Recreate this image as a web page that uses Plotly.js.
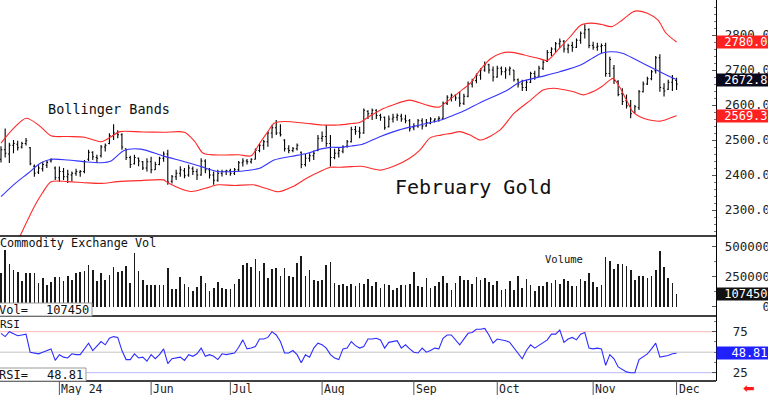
<!DOCTYPE html>
<html><head><meta charset="utf-8">
<script src="https://cdn.plot.ly/plotly-3.0.1.min.js"></script>
<style>html,body{margin:0;padding:0;background:#fff}#chart{width:768px;height:395px}</style>
</head><body><div id="chart"></div>
<script>
// ---- DATA (February Gold, daily bars; x = trading-day index) ----
const openP = [2445,2472,2460,2485,2488,2480,2490,2478,2425,2408,2418,2428,2440,2420,2392,2410,2395,2400,2405,2408,
2410,2445,2465,2450,2455,2480,2490,2512,2520,2515,2475,2450,2432,2448,2438,2420,2438,2415,2430,2448,
2460,2382,2395,2405,2412,2400,2418,2410,2400,2440,2415,2400,2385,2405,2410,2412,2405,2415,2435,2440,
2438,2445,2470,2485,2495,2520,2535,2520,2500,2475,2470,2475,2465,2430,2448,2455,2470,2505,2510,2490,
2450,2462,2468,2482,2495,2530,2525,2520,2582,2575,2585,2570,2565,2538,2560,2565,2568,2560,2555,2535,
2540,2555,2540,2548,2555,2560,2562,2605,2620,2628,2620,2605,2625,2660,2670,2685,2700,2715,2700,2680,
2705,2695,2700,2700,2672,2660,2650,2665,2690,2682,2705,2725,2750,2760,2775,2782,2760,2770,2765,2785,
2805,2815,2770,2765,2768,2770,2690,2705,2668,2632,2612,2598,2578,2592,2638,2660,2675,2698,2735,2648,
2645,2665,2670];
const highP = [2482,2533,2492,2500,2498,2495,2506,2480,2430,2428,2438,2443,2448,2424,2424,2420,2415,2410,2418,2414,
2443,2472,2468,2458,2486,2490,2519,2545,2528,2519,2476,2455,2458,2450,2440,2448,2452,2438,2452,2467,
2472,2400,2415,2425,2420,2429,2424,2418,2448,2445,2420,2410,2415,2415,2415,2418,2420,2440,2448,2446,
2448,2476,2490,2500,2524,2543,2557,2545,2502,2485,2480,2490,2467,2460,2462,2470,2514,2524,2543,2514,
2475,2480,2485,2500,2538,2540,2538,2590,2585,2590,2588,2575,2567,2570,2575,2576,2575,2572,2560,2548,
2560,2562,2560,2565,2562,2568,2610,2628,2633,2630,2638,2632,2667,2675,2690,2705,2724,2718,2710,2712,
2710,2708,2710,2700,2676,2672,2672,2695,2698,2712,2729,2757,2765,2780,2790,2786,2775,2781,2790,2810,
2831,2819,2781,2778,2776,2778,2738,2714,2671,2648,2630,2614,2600,2643,2667,2681,2700,2740,2745,2662,
2672,2686,2678];
const lowP = [2436,2450,2434,2462,2470,2476,2484,2428,2395,2403,2410,2420,2436,2386,2381,2386,2377,2382,2398,2395,
2405,2440,2443,2434,2450,2467,2488,2500,2505,2472,2443,2420,2430,2425,2414,2410,2405,2414,2428,2438,
2372,2376,2386,2395,2391,2395,2400,2386,2398,2405,2390,2372,2381,2396,2400,2398,2400,2410,2424,2430,
2433,2444,2465,2472,2481,2505,2514,2510,2467,2462,2465,2470,2419,2424,2438,2443,2468,2495,2481,2424,
2445,2450,2462,2478,2493,2515,2505,2518,2560,2557,2560,2555,2529,2536,2550,2555,2552,2548,2524,2528,
2535,2530,2538,2545,2550,2552,2560,2600,2610,2612,2595,2600,2622,2650,2662,2672,2695,2690,2667,2678,
2685,2675,2685,2667,2650,2640,2640,2663,2672,2681,2700,2723,2740,2750,2762,2750,2748,2752,2763,2775,
2790,2762,2758,2755,2748,2681,2680,2660,2625,2600,2590,2562,2576,2586,2636,2657,2671,2690,2638,2624,
2643,2640,2643];
const closeP = [2472,2462,2485,2490,2478,2490,2498,2432,2405,2420,2430,2436,2444,2392,2410,2395,2402,2405,2410,2410,
2438,2465,2452,2448,2480,2485,2512,2520,2515,2480,2450,2430,2450,2440,2420,2438,2415,2430,2448,2460,
2380,2395,2405,2415,2398,2420,2410,2400,2440,2415,2400,2385,2405,2410,2412,2405,2415,2435,2440,2438,
2445,2470,2485,2495,2520,2535,2520,2515,2475,2470,2475,2485,2430,2448,2455,2462,2505,2510,2490,2450,
2462,2470,2480,2495,2530,2525,2520,2585,2575,2585,2570,2565,2535,2560,2565,2570,2560,2555,2532,2540,
2555,2540,2550,2560,2560,2562,2605,2622,2628,2620,2605,2625,2660,2670,2685,2700,2715,2700,2680,2705,
2695,2700,2705,2672,2660,2650,2665,2690,2680,2705,2722,2750,2760,2775,2782,2760,2770,2765,2785,2805,
2815,2770,2765,2768,2770,2690,2730,2670,2630,2610,2598,2575,2595,2638,2660,2675,2695,2735,2650,2640,
2665,2675,2660];
const volume = [280000,469000,356000,303000,289000,211000,280000,280000,280000,197000,
239000,183000,203000,247000,247000,211000,258000,219000,280000,289000,
300000,350000,303000,211000,280000,225000,261000,330000,286000,300000,
342000,197000,447000,294000,225000,183000,183000,178000,178000,178000,
322000,147000,150000,247000,192000,164000,133000,161000,258000,197000,
128000,156000,206000,156000,150000,150000,189000,230000,344000,364000,
328000,400000,294000,364000,239000,314000,322000,253000,322000,253000,
244000,364000,419000,253000,303000,219000,211000,225000,344000,372000,
197000,178000,192000,175000,192000,169000,197000,192000,233000,169000,
203000,156000,
189000,178000,142000,156000,178000,178000,192000,286000,175000,164000,
239000,156000,169000,206000,253000,197000,136000,197000,253000,219000,
225000,189000,244000,219000,239000,203000,183000,211000,136000,150000,
217000,142000,258000,156000,230000,178000,128000,169000,169000,203000,
197000,225000,189000,230000,211000,175000,175000,230000,217000,280000,
206000,164000,183000,414000,383000,317000,358000,358000,336000,308000,
225000,253000,258000,239000,258000,303000,467000,330000,239000,197000,107450];
const rsi = [73,69,75,72,70,71,72,50,49,48,50,52,54,40,47,44,43,48,47,47,
54,61,52,57,63,59,67,69,68,52,41,41,48,43,44,39,47,42,47,54,
36,42,43,44,40,47,45,48,55,45,47,45,41,48,47,48,49,56,65,54,
55,57,66,66,68,75,71,63,49,49,52,47,37,47,44,55,61,59,55,47,
43,41,54,55,63,58,55,57,66,66,67,65,
55,62,63,64,55,59,54,50,49,55,50,52,55,54,67,71,71,65,59,66,
73,74,78,78,79,71,61,66,65,64,62,55,48,42,52,59,55,58,61,65,
72,72,77,62,66,68,65,72,74,55,54,55,54,34,47,42,32,29,26,25,
25,41,45,48,54,61,44,45,46,48,48.81];

// Bollinger bands, read at sampled bar positions
const bbUpperIdx = [0,3,6,9,12,16,20,24,26.5,28.5,34,39,44,46.5,48.5,53,57,60,62,64,65.5,68,73,77,81,84,86,88,91,94,98,102,105,107,110,112.5,115,117.5,120,122,125.5,129.5,131,133.5,136.5,139,141.5,144,146.5,149,151.5,152.7,155,157.5,159.5,162];
const bbUpper = [2491,2533,2562,2543,2512,2510,2508,2495,2510,2524,2523,2522,2522,2495,2462,2457,2458,2455,2490,2524,2548,2553,2548,2543,2543,2547,2550,2565,2586,2600,2614,2600,2594,2610,2638,2662,2702,2733,2748,2751,2743,2731,2727,2757,2795,2828,2834,2830,2824,2843,2866,2869,2862,2843,2805,2780.0];
const bbMidIdx = [0,3,6.5,9.5,12,16,20,24,26.5,29.5,33.5,39,44,48,52,56,59,62,65.5,69.5,73.5,76.5,79,81.5,84,86.5,91,95.5,100.5,105.5,108.5,111.5,115,121.5,124.5,129.5,134,139,142,144,146,149,152.3,156.3,158.7,162];
const bbMid = [2338,2372,2405,2434,2445,2443,2438,2435,2441,2470,2474,2454,2438,2424,2410,2410,2413,2419,2443,2453,2462,2474,2479,2479,2483,2487,2510,2529,2543,2557,2571,2586,2607,2643,2666,2681,2695,2714,2735,2748,2752,2748,2729,2705,2691,2672.8];
const bbLowerIdx = [0,2.5,4.5,8,10,12,16,20,24,28,33.5,39,40,45.5,49,52,56,60.5,63.5,66.5,70,73.3,76.5,79,81.5,84,86.5,91,94,98,100.5,102.9,105.5,108,110,112.5,115,119.7,123,127,130,132.5,137.3,139.7,142.3,144,146,146.8,148.3,150,151.5,153.1,155.5,158,160.3,162];
const bbLower = [2120,2175,2224,2310,2350,2381,2381,2378,2376,2381,2384,2386,2378,2353,2362,2372,2370,2372,2362,2352,2367,2391,2410,2422,2422,2424,2425,2414,2424,2448,2472,2506,2514,2519,2524,2514,2500,2529,2576,2614,2643,2648,2638,2629,2640,2652,2671,2676,2652,2614,2581,2567,2557,2554,2562,2569.3];

const monthLabels = ['May 24','Jun','Jul','Aug','Sep','Oct','Nov','Dec'];
const monthStartIdx = [14,36,55,77,99,119,142,162];

const priceTicks = [2300,2400,2500,2600,2700,2800];
const volTicks = [0,250000,500000];
const volTickText = ['\u00a0\u00a0\u00a0\u00a0\u00a00','250000','500000'];
const rsiTicks = [25,75];

// ---- LAYOUT HELPERS ----
const idx = closeP.map((_, i) => i);
const MONO = 'DejaVu Sans Mono';
const PH = 381;                 // plot-area height in px
const PW = 716;                 // plot-area width in px
const py = p => (PH - p) / PH;  // px from top -> paper y
const pxx = p => p / PW;        // px from left -> paper x

const lastUpper = bbUpper[bbUpper.length-1];
const lastMid = bbMid[bbMid.length-1];
const lastLower = bbLower[bbLower.length-1];
const lastVol = volume[volume.length-1];
const lastRsi = rsi[rsi.length-1];

const traces = [
  {type:'ohlc', x:idx, open:openP, high:highP, low:lowP, close:closeP, xaxis:'x', yaxis:'y',
   increasing:{line:{color:'#000', width:1.1}}, decreasing:{line:{color:'#000', width:1.1}},
   tickwidth:0.3, hoverinfo:'skip', showlegend:false},
  {type:'scatter', mode:'lines', x:bbUpperIdx, y:bbUpper, xaxis:'x', yaxis:'y',
   line:{color:'#ff2a2a', width:1.1, shape:'spline', smoothing:0.8}, hoverinfo:'skip'},
  {type:'scatter', mode:'lines', x:bbMidIdx, y:bbMid, xaxis:'x', yaxis:'y',
   line:{color:'#3535ff', width:1.1, shape:'spline', smoothing:0.8}, hoverinfo:'skip'},
  {type:'scatter', mode:'lines', x:bbLowerIdx, y:bbLower, xaxis:'x', yaxis:'y',
   line:{color:'#ff2a2a', width:1.1, shape:'spline', smoothing:0.8}, hoverinfo:'skip'},
  {type:'bar', x:idx, y:volume, xaxis:'x', yaxis:'y2', width:0.4,
   marker:{color:'#1a1a1a', line:{width:0}}, hoverinfo:'skip'},
  {type:'scatter', mode:'lines', x:idx, y:rsi, xaxis:'x', yaxis:'y3',
   line:{color:'#2d2dff', width:1.1}, hoverinfo:'skip'}
];

const yCommon = {side:'right', anchor:'x', showgrid:false, zeroline:false, showline:true,
  linecolor:'#000', linewidth:1.3, ticks:'inside', ticklen:4, tickcolor:'#555',
  tickfont:{family:MONO, size:12.5, color:'#222'}, fixedrange:true};

const shapes = [
  {type:'line', xref:'paper', yref:'paper', x0:0, x1:1, y0:py(236), y1:py(236), line:{color:'#000', width:1.5}},
  {type:'line', xref:'paper', yref:'paper', x0:0, x1:1, y0:py(316), y1:py(316), line:{color:'#000', width:1.5}},
  {type:'line', xref:'paper', yref:'paper', x0:0, x1:1, y0:0, y1:0, line:{color:'#000', width:1.3}},
  {type:'line', xref:'paper', yref:'y3', x0:0, x1:1, y0:75, y1:75, line:{color:'#ffb4b4', width:1}, layer:'below'},
  {type:'line', xref:'paper', yref:'y3', x0:0, x1:1, y0:50, y1:50, line:{color:'#c4c4c4', width:1}, layer:'below'},
  {type:'line', xref:'paper', yref:'y3', x0:0, x1:1, y0:25, y1:25, line:{color:'#b8b8ff', width:1}, layer:'below'},
  {type:'rect', xref:'paper', yref:'paper', x0:pxx(-2), x1:pxx(92), y0:py(316), y1:py(303), fillcolor:'#fff', line:{color:'#999', width:1}},
  {type:'rect', xref:'paper', yref:'paper', x0:pxx(-2), x1:pxx(86), y0:py(381), y1:py(368), fillcolor:'#fff', line:{color:'#999', width:1}}
];
monthStartIdx.forEach(m => shapes.push({type:'line', xref:'x', yref:'paper', x0:m, x1:m, y0:py(395), y1:0, line:{color:'#555', width:1}}));

const txt = (s, x, y, size, extra) => Object.assign({text:s, xref:'paper', yref:'paper', x:x, y:y,
  xanchor:'left', yanchor:'middle', showarrow:false, font:{family:MONO, size:size, color:'#111'}}, extra||{});

const annotations = [
  txt('Bollinger Bands', pxx(46), py(109), 13.5),
  txt('February Gold', pxx(393), py(187), 20),
  txt('Commodity Exchange Vol', pxx(-2), py(243), 11.8),
  txt('Volume', pxx(543), py(259), 10.5),
  txt('RSI', pxx(-2), py(324), 11),
  txt('Vol=', pxx(-3), py(309.5), 12),
  txt(String(lastVol), pxx(91), py(309.5), 12, {xanchor:'right'}),
  txt('RSI=', pxx(-3), py(374.5), 12),
  txt(lastRsi.toFixed(2), pxx(85), py(374.5), 12, {xanchor:'right'}),
  txt('\u2b05', pxx(741), py(388), 14, {font:{family:'DejaVu Sans', size:14, color:'#ff1a1a'}})
];
monthStartIdx.forEach((m, i) => annotations.push({text:monthLabels[i], xref:'x', yref:'paper', x:m, y:py(388.5),
  xanchor:'left', yanchor:'middle', xshift:0, showarrow:false, font:{family:MONO, size:11.5, color:'#222'}}));

const tag = (val, yref, label, bg, pad) => ({text:pad + label, xref:'paper', x:1, xanchor:'left', yref:yref, y:val,
  yanchor:'middle', showarrow:false, bgcolor:bg, width:51, height:12, align:'left', borderpad:0,
  font:{family:MONO, size:12, color:'#fff'}});
annotations.push(tag(lastUpper, 'y', lastUpper.toFixed(1), '#ff2020', '\u00a0'));
annotations.push(tag(lastMid, 'y', lastMid.toFixed(1), '#0a0a1e', '\u00a0'));
annotations.push(tag(lastLower, 'y', lastLower.toFixed(1), '#ff2020', '\u00a0'));
annotations.push(tag(lastVol, 'y2', String(lastVol), '#111', '\u00a0'));
annotations.push(tag(lastRsi, 'y3', lastRsi.toFixed(2), '#1f1fff', '\u00a0\u00a0'));

const layout = {
  width:768, height:395, margin:{l:0, r:52, t:0, b:14, pad:0},
  paper_bgcolor:'#fff', plot_bgcolor:'#fff', showlegend:false, bargap:0,
  font:{family:MONO, size:12, color:'#111'},
  xaxis:{domain:[0,1], anchor:'y3', range:[-0.24, 171.46], showgrid:false, zeroline:false,
    showticklabels:false, ticks:'', showline:false, rangeslider:{visible:false}, fixedrange:true},
  yaxis:Object.assign({}, yCommon, {domain:[py(236), 1], range:[2225.7, 2900], tickmode:'array',
    tickvals:priceTicks, tickformat:'.1f', ticklabelstandoff:5,
    minor:{tickmode:'linear', tick0:2300, dtick:20, ticks:'inside', ticklen:2, tickcolor:'#777'}}),
  yaxis2:Object.assign({}, yCommon, {domain:[py(316), py(236)], range:[-77500, 589000], tickmode:'array',
    tickvals:volTicks, ticktext:volTickText, ticklabelstandoff:5,
    minor:{tickmode:'linear', tick0:0, dtick:125000, ticks:'inside', ticklen:2, tickcolor:'#777'}}),
  yaxis3:Object.assign({}, yCommon, {domain:[0, py(316)], range:[14.9, 94.1], tickmode:'array',
    tickvals:rsiTicks, ticklabelstandoff:13,
    minor:{tickmode:'linear', tick0:0, dtick:12.5, ticks:'inside', ticklen:2, tickcolor:'#777'}}),
  shapes:shapes, annotations:annotations
};

Plotly.newPlot('chart', traces, layout, {staticPlot:true, displayModeBar:false});
</script>
</body></html>
